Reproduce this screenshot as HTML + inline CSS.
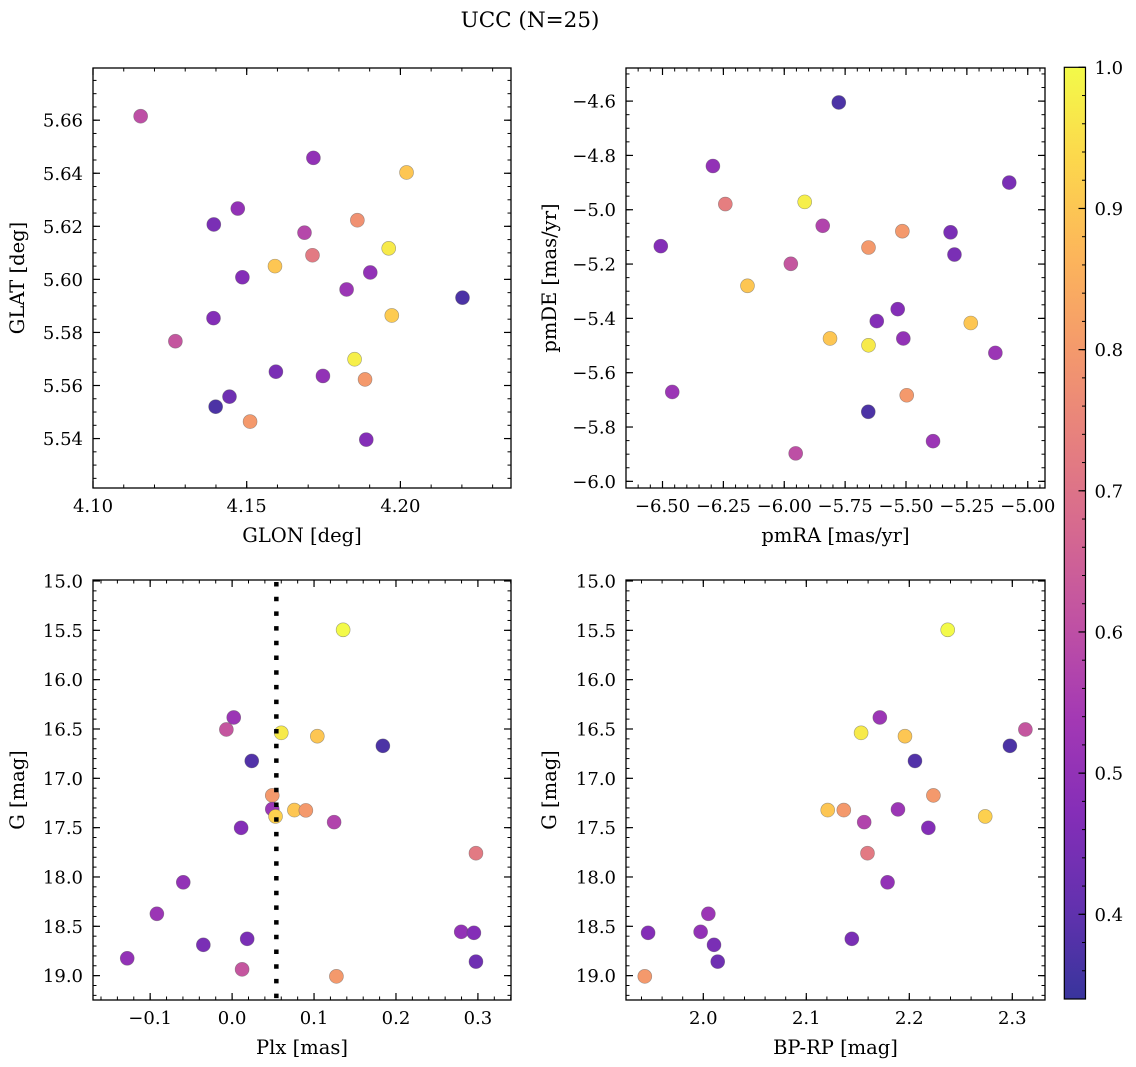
<!DOCTYPE html>
<html>
<head>
<meta charset="utf-8">
<style>
  html,body{margin:0;padding:0;background:#fff;}
  svg{display:block;font-family:"DejaVu Serif","Liberation Serif",serif;}
</style>
</head>
<body>
<svg id="fig" width="1136" height="1067" viewBox="0 0 1136 1067" xmlns="http://www.w3.org/2000/svg">
  <defs>
    <linearGradient id="plasmaGrad" x1="0" y1="1" x2="0" y2="0">
      <stop offset="0" stop-color="#0d0887"/>
      <stop offset="0.1" stop-color="#41049d"/>
      <stop offset="0.2" stop-color="#6a00a8"/>
      <stop offset="0.3" stop-color="#8f0da4"/>
      <stop offset="0.4" stop-color="#b12a90"/>
      <stop offset="0.5" stop-color="#cc4778"/>
      <stop offset="0.6" stop-color="#e16462"/>
      <stop offset="0.7" stop-color="#f2844b"/>
      <stop offset="0.8" stop-color="#fca636"/>
      <stop offset="0.9" stop-color="#fcce25"/>
      <stop offset="1" stop-color="#f0f921"/>
    </linearGradient>
  </defs>
  <text x="530" y="27" font-size="21.5" text-anchor="middle" fill="#000">UCC (N=25)</text>
</svg>
<script>
// ---------- data ----------
const tlLon = [4.1155,4.1717,4.2020,4.1471,4.1393,4.1860,4.1688,4.1714,4.1962,4.1592,4.1486,4.1902,4.1825,4.2202,4.1972,4.1392,4.1268,4.1851,4.1595,4.1748,4.1885,4.1444,4.1399,4.1511,4.1889];
const tlLat = [5.6615,5.6458,5.6403,5.6267,5.6207,5.6223,5.6176,5.6091,5.6117,5.6050,5.6008,5.6026,5.5962,5.5931,5.5864,5.5854,5.5767,5.5699,5.5652,5.5636,5.5623,5.5558,5.5520,5.5464,5.5396];
const tlC   = [0.60,0.50,0.90,0.50,0.45,0.78,0.58,0.72,0.97,0.90,0.47,0.50,0.52,0.37,0.91,0.47,0.62,0.98,0.45,0.50,0.80,0.43,0.37,0.80,0.47];

const trRA = [-5.776,-6.293,-5.076,-6.242,-5.916,-5.842,-5.515,-5.317,-6.507,-5.654,-5.301,-5.973,-6.151,-5.534,-5.620,-5.234,-5.812,-5.511,-5.654,-5.133,-6.460,-5.497,-5.655,-5.389,-5.953];
const trDE = [-4.605,-4.839,-4.900,-4.979,-4.971,-5.059,-5.079,-5.083,-5.134,-5.139,-5.165,-5.199,-5.280,-5.366,-5.410,-5.417,-5.474,-5.474,-5.499,-5.527,-5.671,-5.683,-5.744,-5.852,-5.897];
const trC  = [0.37,0.50,0.45,0.73,0.98,0.57,0.80,0.45,0.47,0.80,0.45,0.62,0.90,0.47,0.47,0.90,0.90,0.50,0.97,0.52,0.52,0.80,0.37,0.52,0.60];

const blPlx = [0.1355,0.002,-0.007,0.060,0.104,0.184,0.024,0.049,0.049,0.076,0.090,0.053,0.1245,0.011,0.2976,-0.0596,-0.0918,0.2796,0.2951,0.0184,-0.0351,-0.128,0.2976,0.0122,0.1273];
const blG   = [15.495,16.383,16.505,16.539,16.573,16.671,16.824,17.173,17.312,17.322,17.325,17.386,17.444,17.502,17.759,18.054,18.373,18.556,18.566,18.627,18.688,18.824,18.858,18.936,19.007];
const blC   = [1.00,0.52,0.62,0.97,0.90,0.37,0.38,0.80,0.52,0.90,0.80,0.92,0.57,0.47,0.72,0.50,0.52,0.50,0.47,0.45,0.45,0.50,0.43,0.62,0.80];
const plxLine = [0.054];

const brCol = [2.2373,2.1714,2.3127,2.1532,2.1958,2.2977,2.2055,2.2234,2.189,2.1208,2.1364,2.2737,2.1562,2.2185,2.1594,2.1789,2.0049,1.9974,1.9464,2.0104,2.1442,2.014,1.9432];
const brG   = [15.495,16.383,16.505,16.539,16.573,16.671,16.824,17.173,17.315,17.322,17.322,17.386,17.444,17.502,17.759,18.054,18.373,18.556,18.566,18.688,18.627,18.858,19.007];
const brC   = [1.00,0.52,0.62,0.97,0.90,0.37,0.38,0.80,0.52,0.90,0.80,0.92,0.57,0.47,0.72,0.50,0.52,0.50,0.47,0.45,0.45,0.43,0.80];

const tlXTicks = [4.10,4.15,4.20];
const tlYTicks = [5.54,5.56,5.58,5.60,5.62,5.64,5.66];
const trXTicks = [-6.50,-6.25,-6.00,-5.75,-5.50,-5.25,-5.00];
const trYTicks = [-6.0,-5.8,-5.6,-5.4,-5.2,-5.0,-4.8,-4.6];
const blXTicks = [-0.1,0.0,0.1,0.2,0.3];
const gTicks   = [15.0,15.5,16.0,16.5,17.0,17.5,18.0,18.5,19.0];
const brXTicks = [2.0,2.1,2.2,2.3];
const cbTicks  = [0.4,0.5,0.6,0.7,0.8,0.9,1.0];
const cMin = 0.34, cMax = 1.0;

// ---------- helpers ----------
const NS = "http://www.w3.org/2000/svg";
const svg = document.getElementById("fig");
const TICK_FS = 18, LABEL_FS = 19.5;
function mk(tag, attrs, parent){
  const e = document.createElementNS(NS, tag);
  for (const k in attrs) e.setAttribute(k, attrs[k]);
  (parent||svg).appendChild(e);
  return e;
}
const plasma = [[13,8,135],[65,4,157],[106,0,168],[143,13,164],[177,42,144],[204,71,120],[225,100,98],[242,132,75],[252,166,54],[252,206,37],[240,249,33]];
function cmap(v){
  let t = (v - cMin)/(cMax - cMin);
  t = Math.max(0, Math.min(1, t));
  const s = t*10, i = Math.min(9, Math.floor(s)), f = s - i;
  const a = plasma[i], b = plasma[i+1];
  const c = [0,1,2].map(j => Math.round((a[j] + (b[j]-a[j])*f)*0.82 + 255*0.18));
  return "rgb(" + c.join(",") + ")";
}
function fmtMinus(s){ return s.replace("-", "\u2212"); }

function drawPanel(p){
  const g = mk("g", {});
  
  
  const xv = p.xv, yv = p.yv;
  const dom = { xa: xv(p.x0), xb: xv(p.x1), ya: yv(p.y1), yb: yv(p.y0) };
  for (let i = 0; i < p.xs.length; i++){
    const c = mk("circle", {cx: p.xm(p.xs[i]), cy: p.ym(p.ys[i]), r: 7, fill: cmap(p.cs[i]), stroke: "rgba(90,90,90,0.55)", "stroke-width": 0.6}, g);
    
    
  }
  if (p.extra) p.extra(g);
  const fr = mk("rect", {x: p.x0, y: p.y0, width: p.x1-p.x0, height: p.y1-p.y0, fill: "none", stroke: "#000", "stroke-width": 1.3}, g);
  
  
  const xt = mk("g", {}, g);
  
  
  const xmin = Math.min(dom.xa, dom.xb), xmax = Math.max(dom.xa, dom.xb);
  for (let k = Math.ceil(xmin/p.xminor - 1e-6); k*p.xminor <= xmax + 1e-9; k++){
    const px = p.xm(k*p.xminor);
    if (px < p.x0 || px > p.x1) continue;
    mk("line", {x1:px, x2:px, y1:p.y1, y2:p.y1-3.5, stroke:"#000", "stroke-width":1}, xt);
    mk("line", {x1:px, x2:px, y1:p.y0, y2:p.y0+3.5, stroke:"#000", "stroke-width":1}, xt);
  }
  p.xticks.forEach(v => {
    const px = p.xm(v);
    mk("line", {x1:px, x2:px, y1:p.y1, y2:p.y1-7, stroke:"#000", "stroke-width":1.2}, xt);
    mk("line", {x1:px, x2:px, y1:p.y0, y2:p.y0+7, stroke:"#000", "stroke-width":1.2}, xt);
    const t = mk("text", {x:px, y:p.y1+24, "font-size":TICK_FS, "text-anchor":"middle", fill:"#000"}, xt);
    
    
    t.textContent = fmtMinus(v.toFixed(p.xdec));
  });
  const yt = mk("g", {}, g);
  
  
  const ymin = Math.min(dom.ya, dom.yb), ymax = Math.max(dom.ya, dom.yb);
  for (let k = Math.ceil(ymin/p.yminor - 1e-6); k*p.yminor <= ymax + 1e-9; k++){
    const py = p.ym(k*p.yminor);
    if (py < p.y0 || py > p.y1) continue;
    mk("line", {x1:p.x0, x2:p.x0+3.5, y1:py, y2:py, stroke:"#000", "stroke-width":1}, yt);
    mk("line", {x1:p.x1, x2:p.x1-3.5, y1:py, y2:py, stroke:"#000", "stroke-width":1}, yt);
  }
  p.yticks.forEach(v => {
    const py = p.ym(v);
    mk("line", {x1:p.x0, x2:p.x0+7, y1:py, y2:py, stroke:"#000", "stroke-width":1.2}, yt);
    mk("line", {x1:p.x1, x2:p.x1-7, y1:py, y2:py, stroke:"#000", "stroke-width":1.2}, yt);
    const t = mk("text", {x:p.x0-10, y:py+6.5, "font-size":TICK_FS, "text-anchor":"end", fill:"#000"}, yt);
    
    
    t.textContent = fmtMinus(v.toFixed(p.ydec));
  });
  const xl = mk("text", {x:(p.x0+p.x1)/2, y:p.y1+54, "font-size":LABEL_FS, "text-anchor":"middle", fill:"#000"}, g);
  
  
  xl.textContent = p.xlabel;
  const yx = p.x0 - p.ylabOff, yy = (p.y0+p.y1)/2;
  const yl = mk("text", {x:yx, y:yy, "font-size":LABEL_FS, "text-anchor":"middle", fill:"#000", transform:"rotate(-90 "+yx+" "+yy+")"}, g);
  
  
  yl.textContent = p.ylabel;
}

function lin(v0, p0, s){ return { f: v => p0 + (v - v0)*s, inv: px => v0 + (px - p0)/s }; }

const tlX = lin(4.10, 93.0, 3074), tlY = lin(5.66, 120.2, -2653);
drawPanel({name:"panel-glon-glat", x0:93, x1:511, y0:68, y1:488,
  xm:tlX.f, ym:tlY.f, xv:tlX.inv, yv:tlY.inv, xs:tlLon, ys:tlLat, cs:tlC,
  xticks:tlXTicks, yticks:tlYTicks, xminor:0.01, yminor:0.005, xdec:2, ydec:2,
  xlabel:"GLON [deg]", ylabel:"GLAT [deg]", ylabOff:69});

const trX = lin(-6.5, 662.5, 243.5), trY = lin(-4.6, 101.1, -271.6);
drawPanel({name:"panel-pmra-pmde", x0:626, x1:1045, y0:68, y1:488,
  xm:trX.f, ym:trY.f, xv:trX.inv, yv:trY.inv, xs:trRA, ys:trDE, cs:trC,
  xticks:trXTicks, yticks:trYTicks, xminor:0.05, yminor:0.05, xdec:2, ydec:1,
  xlabel:"pmRA [mas/yr]", ylabel:"pmDE [mas/yr]", ylabOff:70});

const blX = lin(0, 232.1, 819.4), blY = lin(15, 581.0, 98.66);
drawPanel({name:"panel-plx-g", x0:93, x1:511, y0:580, y1:1000,
  xm:blX.f, ym:blY.f, xv:blX.inv, yv:blY.inv, xs:blPlx, ys:blG, cs:blC,
  xticks:blXTicks, yticks:gTicks, xminor:0.02, yminor:0.1, xdec:1, ydec:1,
  xlabel:"Plx [mas]", ylabel:"G [mag]", ylabOff:69,
  extra: g => {
    plxLine.forEach(v => {
      const l = mk("line", {x1:blX.f(v), x2:blX.f(v), y1:582, y2:1000, stroke:"#000", "stroke-width":4.5, "stroke-dasharray":"4.5 10.2"}, g);
      
      
    });
  }});

const brX = lin(2.0, 703.3, 1030), brY = lin(15, 581.0, 98.66);
drawPanel({name:"panel-bprp-g", x0:626, x1:1045, y0:580, y1:1000,
  xm:brX.f, ym:brY.f, xv:brX.inv, yv:brY.inv, xs:brCol, ys:brG, cs:brC,
  xticks:brXTicks, yticks:gTicks, xminor:0.02, yminor:0.1, xdec:1, ydec:1,
  xlabel:"BP-RP [mag]", ylabel:"G [mag]", ylabOff:70});

// colorbar
const cbTop = 67.3, cbBot = 999, cbX0 = 1064.3, cbX1 = 1085.5;
function cbY(v){ return cbTop + (cMax - v)/(cMax - cMin)*(cbBot - cbTop); }
const cb = mk("g", {});


mk("rect", {x:cbX0, y:cbTop, width:cbX1-cbX0, height:cbBot-cbTop, fill:"url(#plasmaGrad)", opacity:0.82}, cb);
mk("rect", {x:cbX0, y:cbTop, width:cbX1-cbX0, height:cbBot-cbTop, fill:"none", stroke:"#000", "stroke-width":1.2}, cb);
for (let k = Math.ceil(cMin/0.02); k*0.02 <= cMax + 1e-9; k++){
  const y = cbY(k*0.02);
  mk("line", {x1:cbX1, x2:cbX1-3.5, y1:y, y2:y, stroke:"#000", "stroke-width":1}, cb);
}
cbTicks.forEach(v => {
  const y = cbY(v);
  mk("line", {x1:cbX1, x2:cbX1-7, y1:y, y2:y, stroke:"#000", "stroke-width":1.2}, cb);
  const t = mk("text", {x:cbX1+9, y:y+6.5, "font-size":TICK_FS, fill:"#000"}, cb);
  
  
  t.textContent = v.toFixed(1);
});
</script>
</body>
</html>
